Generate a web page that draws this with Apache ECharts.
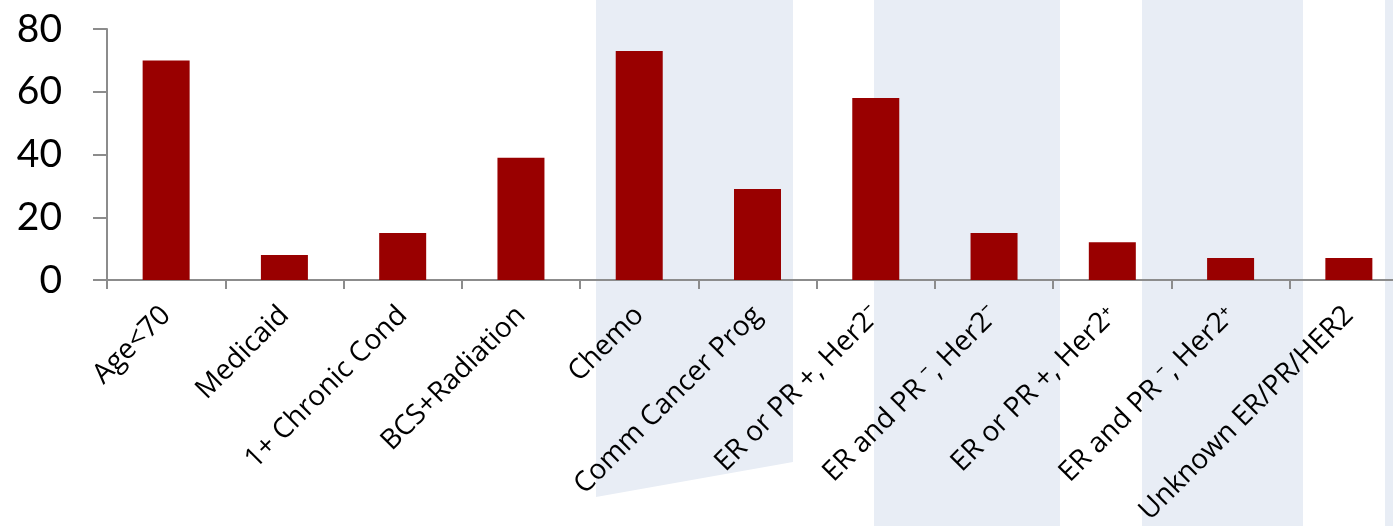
<!DOCTYPE html>
<html>
<head>
<meta charset="utf-8">
<script src="https://cdn.jsdelivr.net/npm/echarts@6/dist/echarts.min.js"></script>
<style>
	html, body { margin: 0; padding: 0; background: #fff; }
	#chart { width: 1393px; height: 526px; }
</style>
</head>
<body>
<div id="chart"></div>
<script>
// chart data
const categories = [
	'Age<70',
	'Medicaid',
	'1+ Chronic Cond',
	'BCS+Radiation',
	'Chemo',
	'Comm Cancer Prog',
	'ER or PR +, Her2\u207B',
	'ER and PR \u207B, Her2\u207B',
	'ER or PR +, Her2\u207A',
	'ER and PR \u207B, Her2\u207A',
	'Unknown ER/PR/HER2'
];
const values = [70, 8, 15, 39, 73, 29, 58, 15, 12, 7, 7];
const yTicks = [0, 20, 40, 60, 80];

const bandColor = '#e8edf5';
const axisColor = '#8c8c8c';

let chartInstance = echarts.init(document.getElementById('chart'));

let option = {
	animation: false,
	backgroundColor: '#fff',
	// slide background bands behind the plot
	graphic: [
		{ type: 'polygon', z: -100, silent: true,
			shape: { points: [[596, 0], [793, 0], [793, 462], [596, 497]] },
			style: { fill: bandColor } },
		{ type: 'rect', z: -100, silent: true,
			shape: { x: 874, y: 0, width: 186, height: 526 },
			style: { fill: bandColor } },
		{ type: 'rect', z: -100, silent: true,
			shape: { x: 1142, y: 0, width: 161, height: 526 },
			style: { fill: bandColor } },
		{ type: 'rect', z: -100, silent: true,
			shape: { x: 1385, y: 0, width: 8, height: 526 },
			style: { fill: bandColor } }
	],
	grid: {
		left: 107,
		top: 29,
		width: 1301,
		height: 251,
		containLabel: false,
		outerBoundsMode: 'none'
	},
	xAxis: {
		type: 'category',
		data: categories,
		axisLine: { lineStyle: { color: axisColor, width: 2 } },
		axisTick: { show: true, length: 9, alignWithLabel: false, lineStyle: { color: axisColor, width: 2 } },
		axisLabel: {
			rotate: 45,
			interval: 0,
			margin: 31,
			color: '#000',
			fontSize: 28,
			fontFamily: 'Open Sans'
		}
	},
	yAxis: {
		type: 'value',
		min: yTicks[0],
		max: yTicks[yTicks.length - 1],
		interval: 20,
		splitLine: { show: false },
		axisLine: { show: true, lineStyle: { color: axisColor, width: 2 } },
		axisTick: { show: true, length: 14, lineStyle: { color: axisColor, width: 2 } },
		axisLabel: {
			margin: 45,
			color: '#000',
			fontSize: 39,
			fontFamily: 'Lato'
		}
	},
	series: [{
		type: 'bar',
		data: values,
		barWidth: 47,
		itemStyle: { color: '#990000' }
	}]
};

chartInstance.setOption(option);
</script>
</body>
</html>
